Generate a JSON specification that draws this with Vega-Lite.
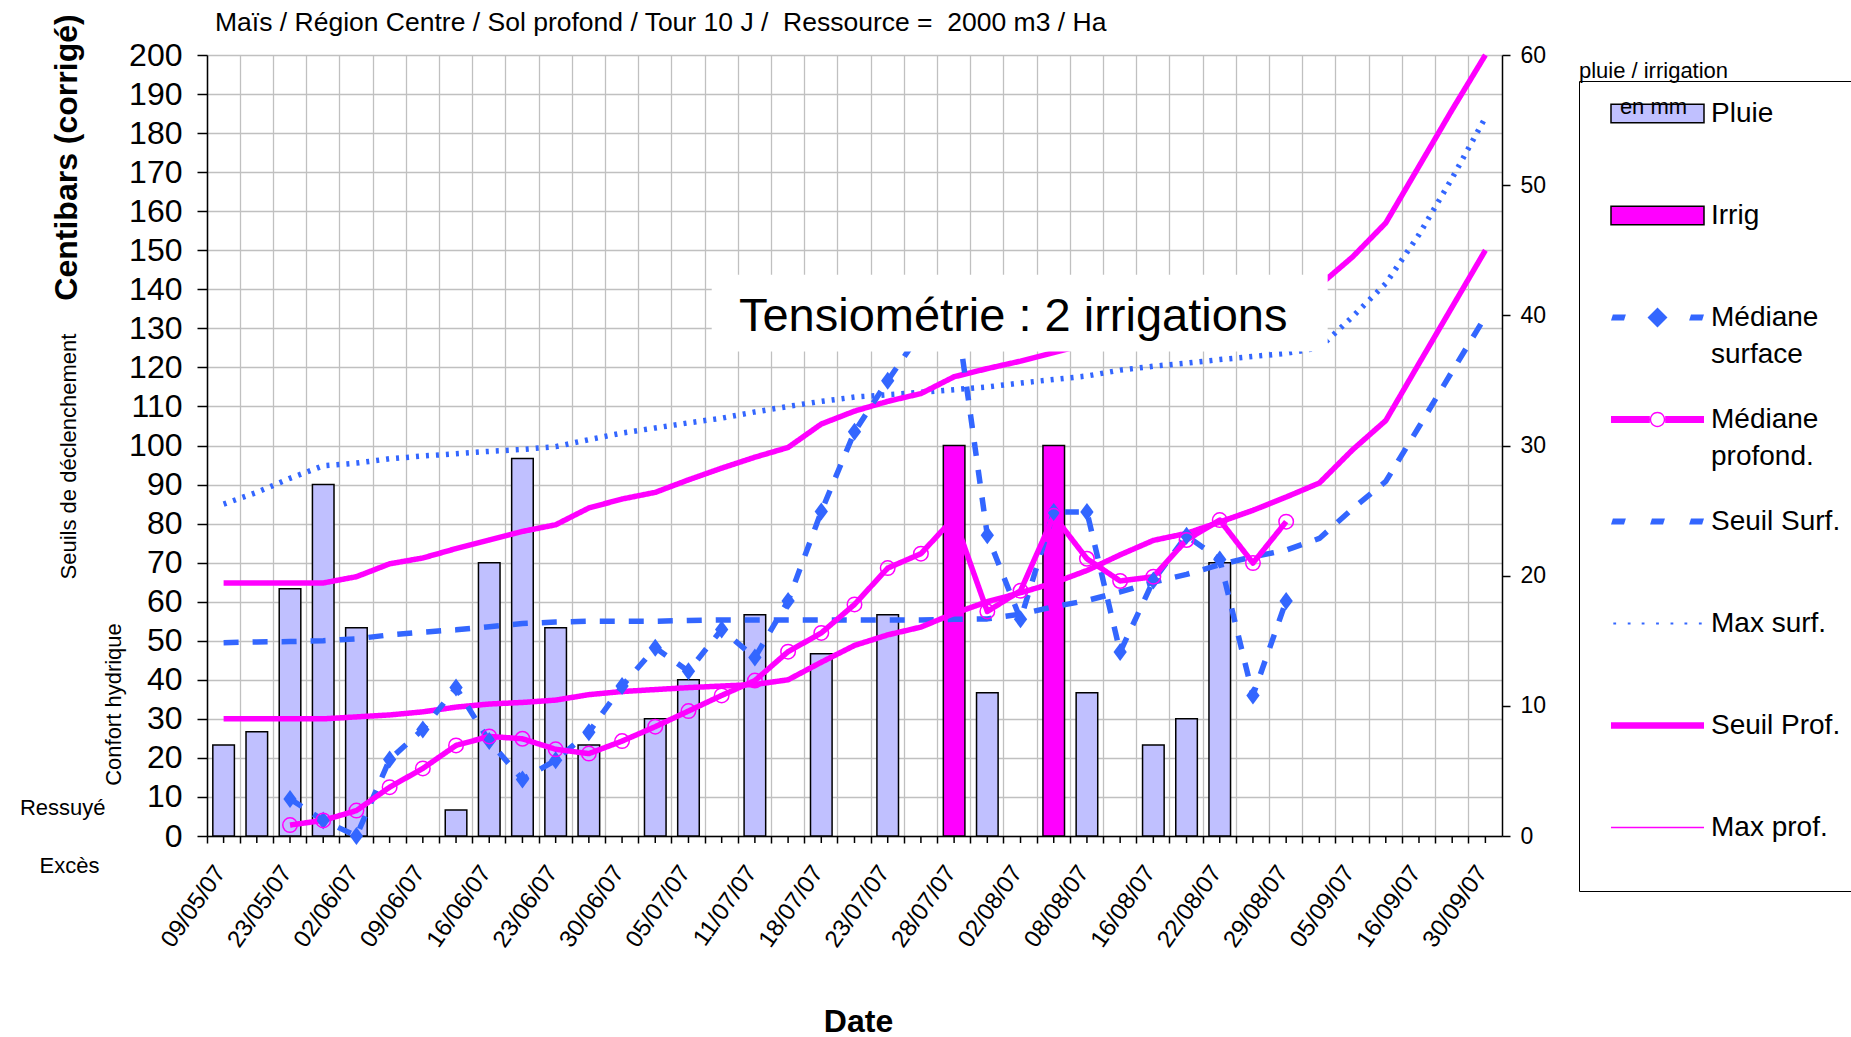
{
  "$schema": "https://vega.github.io/schema/vega-lite/v6.json",
  "width": 1295,
  "height": 781,
  "autosize": {"type": "none"},
  "padding": {"left": 207, "top": 55, "right": 349, "bottom": 201},
  "title": {
    "text": "Maïs / Région Centre / Sol profond / Tour 10 J /\u00a0 Ressource =\u00a0 2000 m3 / Ha",
    "anchor": "start", "frame": "group", "fontSize": 26.5, "fontWeight": "normal",
    "font": "Liberation Sans", "color": "black", "baseline": "middle", "offset": 0, "dx": 8, "dy": 36
  },
  "config": {
    "view": {"stroke": null},
    "font": "Liberation Sans",
    "style": {"guide-label": {"lineHeight": 37}},
    "axis": {
      "labelColor": "black", "titleColor": "black", "domainColor": "black", "tickColor": "black",
      "gridColor": "#c0c0c0", "gridWidth": 1.3, "domainWidth": 1.5, "tickWidth": 1.5,
      "labelFont": "Liberation Sans", "titleFont": "Liberation Sans"
    }
  },
  "datasets": {
    "t": [
      {"d":"09/05/07","i":0,"Pluie":7,"Seuil Surf.":49.5,"Max surf.":85,"Seuil Prof.":30,"Max prof.":64.8},
      {"d":"16/05/07","i":1,"Pluie":8,"Seuil Surf.":49.7,"Max surf.":88,"Seuil Prof.":30,"Max prof.":64.8},
      {"d":"23/05/07","i":2,"Pluie":19,"Médiane surface":9.5,"Médiane profond.":2.8,"Seuil Surf.":49.8,"Max surf.":91.6,"Seuil Prof.":30,"Max prof.":64.8},
      {"d":"28/05/07","i":3,"Pluie":27,"Médiane surface":4,"Médiane profond.":4,"Seuil Surf.":50,"Max surf.":94.8,"Seuil Prof.":30,"Max prof.":64.8},
      {"d":"02/06/07","i":4,"Pluie":16,"Médiane surface":0,"Médiane profond.":6.5,"Seuil Surf.":50.5,"Max surf.":95.5,"Seuil Prof.":30.5,"Max prof.":66.4},
      {"d":"06/06/07","i":5,"Médiane surface":19.6,"Médiane profond.":12.5,"Seuil Surf.":51.5,"Max surf.":96.6,"Seuil Prof.":31,"Max prof.":69.7},
      {"d":"09/06/07","i":6,"Médiane surface":27.3,"Médiane profond.":17.3,"Seuil Surf.":52.2,"Max surf.":97.3,"Seuil Prof.":31.8,"Max prof.":71.2},
      {"d":"13/06/07","i":7,"Pluie":2,"Médiane surface":38,"Médiane profond.":23.2,"Seuil Surf.":52.8,"Max surf.":97.9,"Seuil Prof.":33,"Max prof.":73.6},
      {"d":"16/06/07","i":8,"Pluie":21,"Médiane surface":24.3,"Médiane profond.":25.5,"Seuil Surf.":53.6,"Max surf.":98.5,"Seuil Prof.":33.8,"Max prof.":75.8},
      {"d":"20/06/07","i":9,"Pluie":29,"Médiane surface":14.5,"Médiane profond.":24.9,"Seuil Surf.":54.4,"Max surf.":99,"Seuil Prof.":34.2,"Max prof.":78},
      {"d":"23/06/07","i":10,"Pluie":16,"Médiane surface":19.4,"Médiane profond.":22.2,"Seuil Surf.":54.8,"Max surf.":99.7,"Seuil Prof.":34.8,"Max prof.":79.7},
      {"d":"27/06/07","i":11,"Pluie":7,"Médiane surface":26.6,"Médiane profond.":21.1,"Seuil Surf.":55,"Max surf.":101.5,"Seuil Prof.":36.2,"Max prof.":84},
      {"d":"30/06/07","i":12,"Médiane surface":38.4,"Médiane profond.":24.3,"Seuil Surf.":55,"Max surf.":103.2,"Seuil Prof.":37,"Max prof.":86.3},
      {"d":"03/07/07","i":13,"Pluie":9,"Médiane surface":48.2,"Médiane profond.":28,"Seuil Surf.":55,"Max surf.":104.5,"Seuil Prof.":37.5,"Max prof.":88},
      {"d":"05/07/07","i":14,"Pluie":12,"Médiane surface":42.2,"Médiane profond.":32,"Seuil Surf.":55.2,"Max surf.":105.8,"Seuil Prof.":38,"Max prof.":91.2},
      {"d":"08/07/07","i":15,"Médiane surface":52.9,"Médiane profond.":36,"Seuil Surf.":55.3,"Max surf.":107,"Seuil Prof.":38.4,"Max prof.":94.2},
      {"d":"11/07/07","i":16,"Pluie":17,"Médiane surface":45.7,"Médiane profond.":39.8,"Seuil Surf.":55.3,"Max surf.":108.6,"Seuil Prof.":38.8,"Max prof.":97},
      {"d":"14/07/07","i":17,"Médiane surface":60.2,"Médiane profond.":47.2,"Seuil Surf.":55.3,"Max surf.":110,"Seuil Prof.":40,"Max prof.":99.5},
      {"d":"18/07/07","i":18,"Pluie":14,"Médiane surface":83.1,"Médiane profond.":52,"Seuil Surf.":55.3,"Max surf.":111.3,"Seuil Prof.":44.5,"Max prof.":105.5},
      {"d":"20/07/07","i":19,"Médiane surface":103.5,"Médiane profond.":59.3,"Seuil Surf.":55.3,"Max surf.":112.4,"Seuil Prof.":48.8,"Max prof.":108.8},
      {"d":"23/07/07","i":20,"Pluie":17,"Médiane surface":116.6,"Médiane profond.":68.6,"Seuil Surf.":55.3,"Max surf.":113,"Seuil Prof.":51.5,"Max prof.":111.3},
      {"d":"26/07/07","i":21,"Médiane surface":129,"Médiane profond.":72.3,"Seuil Surf.":55.3,"Max surf.":113.6,"Seuil Prof.":53.5,"Max prof.":113.3},
      {"d":"28/07/07","i":22,"Irrig":30,"Médiane surface":138,"Médiane profond.":81.5,"Seuil Surf.":55.5,"Max surf.":114.3,"Seuil Prof.":57,"Max prof.":117.6},
      {"d":"30/07/07","i":23,"Pluie":11,"Médiane surface":77,"Médiane profond.":57.5,"Seuil Surf.":55.6,"Max surf.":115,"Seuil Prof.":60,"Max prof.":119.7},
      {"d":"02/08/07","i":24,"Médiane surface":55.5,"Médiane profond.":62.8,"Seuil Surf.":56.8,"Max surf.":116,"Seuil Prof.":62.3,"Max prof.":121.6},
      {"d":"05/08/07","i":25,"Irrig":30,"Médiane surface":83,"Médiane profond.":82,"Seuil Surf.":58.7,"Max surf.":116.9,"Seuil Prof.":64.8,"Max prof.":123.8},
      {"d":"08/08/07","i":26,"Pluie":11,"Médiane surface":83,"Médiane profond.":71,"Seuil Surf.":60.3,"Max surf.":117.8,"Seuil Prof.":68},
      {"d":"12/08/07","i":27,"Médiane surface":47.1,"Médiane profond.":65.3,"Seuil Surf.":62.5,"Max surf.":119.3,"Seuil Prof.":72},
      {"d":"16/08/07","i":28,"Pluie":7,"Médiane surface":65.4,"Médiane profond.":66.4,"Seuil Surf.":65,"Max surf.":120.3,"Seuil Prof.":75.7},
      {"d":"19/08/07","i":29,"Pluie":9,"Médiane surface":76.9,"Médiane profond.":75.8,"Seuil Surf.":67,"Max surf.":121.1,"Seuil Prof.":77.5},
      {"d":"22/08/07","i":30,"Pluie":21,"Médiane surface":70.8,"Médiane profond.":80.9,"Seuil Surf.":69.5,"Max surf.":122,"Seuil Prof.":80.4},
      {"d":"26/08/07","i":31,"Médiane surface":36,"Médiane profond.":69.9,"Seuil Surf.":71.5,"Max surf.":122.8,"Seuil Prof.":83.4},
      {"d":"29/08/07","i":32,"Médiane surface":60.2,"Médiane profond.":80.5,"Seuil Surf.":73.2,"Max surf.":123.6,"Seuil Prof.":86.8},
      {"d":"01/09/07","i":33,"Seuil Surf.":76.2,"Max surf.":125,"Seuil Prof.":90.4,"Max prof.":141},
      {"d":"05/09/07","i":34,"Seuil Surf.":83.8,"Max surf.":133,"Seuil Prof.":98.9,"Max prof.":148.3},
      {"d":"10/09/07","i":35,"Seuil Surf.":90.8,"Max surf.":141.5,"Seuil Prof.":106.4,"Max prof.":157},
      {"d":"16/09/07","i":36,"Seuil Surf.":104.8,"Max surf.":154,"Seuil Prof.":121,"Max prof.":171.5},
      {"d":"23/09/07","i":37,"Seuil Surf.":119,"Max surf.":168.5,"Seuil Prof.":135.5,"Max prof.":186},
      {"d":"30/09/07","i":38,"Seuil Surf.":133,"Max surf.":184,"Seuil Prof.":150,"Max prof.":200}
    ]
  },
  "data": {"name": "t"},
  "transform": [
    {"fold": ["Pluie", "Irrig", "Médiane surface", "Médiane profond\\.", "Seuil Surf\\.", "Max surf\\.", "Seuil Prof\\.", "Max prof\\."], "as": ["s", "v"]},
    {"filter": "isValid(datum.v)"}
  ],
  "encoding": {
    "x": {
      "field": "d", "type": "ordinal",
      "scale": {"type": "band", "paddingInner": 0, "paddingOuter": 0,
        "domain": ["09/05/07","16/05/07","23/05/07","28/05/07","02/06/07","06/06/07","09/06/07","13/06/07","16/06/07","20/06/07","23/06/07","27/06/07","30/06/07","03/07/07","05/07/07","08/07/07","11/07/07","14/07/07","18/07/07","20/07/07","23/07/07","26/07/07","28/07/07","30/07/07","02/08/07","05/08/07","08/08/07","12/08/07","16/08/07","19/08/07","22/08/07","26/08/07","29/08/07","01/09/07","05/09/07","10/09/07","16/09/07","23/09/07","30/09/07"]},
      "axis": null
    }
  },
  "resolve": {"scale": {"x": "independent", "y": "independent"}},
  "layer": [
    {
      "transform": [{"filter": {"field": "s", "equal": "Seuil Prof."}}],
      "mark": {"type": "rule", "color": "black", "strokeWidth": 1.5},
      "encoding": {
        "x": {
          "field": "d", "type": "ordinal",
          "scale": {"type": "band", "paddingInner": 0, "paddingOuter": 0,
            "domain": ["09/05/07","16/05/07","23/05/07","28/05/07","02/06/07","06/06/07","09/06/07","13/06/07","16/06/07","20/06/07","23/06/07","27/06/07","30/06/07","03/07/07","05/07/07","08/07/07","11/07/07","14/07/07","18/07/07","20/07/07","23/07/07","26/07/07","28/07/07","30/07/07","02/08/07","05/08/07","08/08/07","12/08/07","16/08/07","19/08/07","22/08/07","26/08/07","29/08/07","01/09/07","05/09/07","10/09/07","16/09/07","23/09/07","30/09/07"]},
          "axis": {
            "orient": "bottom", "bandPosition": 0, "grid": true, "tickSize": 7,
            "labelExpr": "round(datum.index * 38) % 2 == 0 ? datum.label : ''",
            "labelAngle": -55, "labelAlign": "right", "labelBaseline": "middle", "labelOffset": -3,
            "labelFontSize": 24, "labelPadding": 25, "labelOverlap": false,
            "title": "Date", "titleFontSize": 32, "titleFontWeight": "bold",
            "titleX": 651, "titleY": 185, "titleAlign": "center", "titleBaseline": "middle"
          }
        },
        "y": {"datum": 0, "type": "quantitative", "scale": {"domain": [0, 200], "nice": false}, "axis": null},
        "y2": {"datum": -1.8}
      }
    },
    {
      "transform": [{"filter": {"field": "s", "oneOf": ["Pluie", "Irrig"]}}],
      "mark": {"type": "bar", "width": {"band": 0.65}, "stroke": "black", "strokeWidth": 1.5},
      "encoding": {
        "y": {
          "field": "v", "type": "quantitative",
          "scale": {"domain": [0, 60], "nice": false},
          "axis": {
            "orient": "right", "values": [0, 10, 20, 30, 40, 50, 60], "grid": false,
            "tickSize": 8, "labelFontSize": 23, "labelPadding": 10, "zindex": 2,
            "title": ["pluie / irrigation", "en mm"], "titleAngle": 0, "titleX": 151, "titleY": 5,
            "titleAlign": "center", "titleBaseline": "top", "titleFontSize": 22,
            "titleFontWeight": "normal", "titleLineHeight": 36
          }
        },
        "color": {
          "field": "s", "type": "nominal",
          "scale": {
            "domain": ["Pluie", "Irrig", "Médiane surface", "Médiane profond.", "Seuil Surf.", "Max surf.", "Seuil Prof.", "Max prof."],
            "range": ["#C0C0FF", "#FF00FF", "#3366FF", "#FF00FF", "#3366FF", "#3366FF", "#FF00FF", "#FF00FF"]
          },
          "legend": {
            "title": "\u00a0", "titleOrient": "bottom", "titleFontSize": 20, "titlePadding": 14,
            "orient": "none", "legendX": 1372, "legendY": 26,
            "padding": 15, "strokeColor": "black", "fillColor": "white",
            "symbolSize": 1089, "symbolOffset": 46, "labelOffset": 36,
            "labelFontSize": 28, "labelColor": "black",
            "labelLimit": 0, "labelBaseline": "middle", "rowPadding": 33, "gridAlign": "all",
            "direction": "vertical", "columns": 1,
            "symbolStrokeWidth": 1.5, "symbolOpacity": 1,
            "symbolStrokeColor": {"expr": "datum.value == 'Pluie' || datum.value == 'Irrig' ? 'black' : 'transparent'"},
            "symbolType": {"expr": "datum.value == 'Pluie' || datum.value == 'Irrig' ? 'M-2.818,-0.564H2.818V0.564H-2.818Z' : datum.value == 'Médiane surface' ? 'M-2.818,0.183L-2.705,-0.183H-1.916L-2.029,0.183Z M0,-0.606L0.606,0L0,0.606L-0.606,0Z M1.916,0.183L2.029,-0.183H2.818L2.705,0.183Z' : datum.value == 'Médiane profond.' ? 'M-2.818,-0.211H-0.465V0.211H-2.818Z M0.465,-0.211H2.818V0.211H0.465Z M0.465,0A0.465,0.465 0 1,1 -0.465,0A0.465,0.465 0 1,1 0.465,0Z M0.38,0A0.38,0.38 0 1,0 -0.38,0A0.38,0.38 0 1,0 0.38,0Z' : datum.value == 'Seuil Surf.' ? 'M-2.818,0.183L-2.705,-0.183H-1.916L-2.029,0.183Z M-0.451,0.183L-0.338,-0.183H0.451L0.338,0.183Z M1.916,0.183L2.029,-0.183H2.818L2.705,0.183Z' : datum.value == 'Max surf.' ? 'M-2.677,-0.062h0.169v0.124h-0.169Z M-1.803,-0.062h0.169v0.124h-0.169Z M-0.958,-0.062h0.169v0.124h-0.169Z M-0.085,-0.062h0.169v0.124h-0.169Z M0.79,-0.062h0.169v0.124h-0.169Z M1.635,-0.062h0.169v0.124h-0.169Z M2.509,-0.062h0.169v0.124h-0.169Z' : datum.value == 'Seuil Prof.' ? 'M-2.818,-0.197H2.818V0.197H-2.818Z' : 'M-2.818,-0.04H2.818V0.04H-2.818Z'"},
            "labelExpr": "datum.label == 'Médiane surface' ? ['Médiane', 'surface'] : datum.label == 'Médiane profond.' ? ['Médiane', 'profond.'] : datum.label"
          }
        }
      }
    },
    {
      "transform": [{"filter": {"field": "s", "oneOf": ["Médiane surface", "Médiane profond.", "Seuil Surf.", "Max surf.", "Seuil Prof.", "Max prof."]}}],
      "mark": {"type": "line", "strokeCap": "butt", "strokeJoin": "round"},
      "encoding": {
        "y": {
          "field": "v", "type": "quantitative",
          "scale": {"domain": [0, 200], "nice": false},
          "axis": {
            "orient": "left", "values": [0,10,20,30,40,50,60,70,80,90,100,110,120,130,140,150,160,170,180,190,200],
            "grid": true, "tickSize": 10, "labelFontSize": 32, "labelPadding": 15,
            "labelFlush": false, "labelOverlap": false,
            "title": "Centibars (corrigé)", "titleFontSize": 32, "titleFontWeight": "bold",
            "titleAngle": 270, "titleX": -141, "titleY": 102, "titleAlign": "center", "titleBaseline": "middle"
          }
        },
        "stroke": {
          "field": "s", "type": "nominal",
          "scale": {
            "domain": ["Médiane surface", "Médiane profond.", "Seuil Surf.", "Max surf.", "Seuil Prof.", "Max prof."],
            "range": ["#3366FF", "#FF00FF", "#3366FF", "#3366FF", "#FF00FF", "#FF00FF"]
          },
          "legend": null
        },
        "strokeDash": {
          "field": "s", "type": "nominal",
          "scale": {"domain": ["Médiane surface", "Médiane profond.", "Seuil Surf.", "Max surf.", "Seuil Prof.", "Max prof."],
            "range": [[14, 14], [1, 0], [15, 14], [3, 7], [1, 0], [1, 0]]},
          "legend": null
        },
        "strokeWidth": {
          "field": "s", "type": "nominal",
          "scale": {"domain": ["Médiane surface", "Médiane profond.", "Seuil Surf.", "Max surf.", "Seuil Prof.", "Max prof."],
            "range": [5.5, 5.5, 6.5, 2.5, 7, 1.2]},
          "legend": null
        },
        "order": {"field": "i", "type": "quantitative"}
      }
    },
    {
      "transform": [{"filter": {"field": "s", "equal": "Médiane surface"}}],
      "mark": {"type": "point", "shape": "M0,-1.15L0.85,0L0,1.15L-0.85,0Z", "filled": true, "color": "#3366FF", "size": 245, "opacity": 1},
      "encoding": {
        "y": {"field": "v", "type": "quantitative", "scale": {"domain": [0, 200], "nice": false}, "axis": null}
      }
    },
    {
      "transform": [{"filter": {"field": "s", "equal": "Médiane profond."}}],
      "mark": {"type": "point", "shape": "circle", "filled": false, "color": "#FF00FF", "strokeWidth": 1.5, "size": 210, "opacity": 1},
      "encoding": {
        "y": {"field": "v", "type": "quantitative", "scale": {"domain": [0, 200], "nice": false}, "axis": null}
      }
    },
    {
      "data": {"values": [{"txt": "Tensiométrie : 2 irrigations"}]},
      "mark": {"type": "rect", "fill": "white"},
      "encoding": {
        "x": {"datum": "08/07/07", "type": "ordinal", "bandPosition": 0.2, "axis": null},
        "x2": {"datum": "01/09/07", "bandPosition": 0.75},
        "y": {"datum": 124.1, "type": "quantitative", "scale": {"domain": [0, 200], "nice": false}, "axis": null},
        "y2": {"datum": 143.7}
      }
    },
    {
      "data": {"values": [{"txt": "Tensiométrie : 2 irrigations"}]},
      "mark": {"type": "text", "fontSize": 47, "font": "Liberation Sans", "align": "center", "baseline": "middle", "color": "black"},
      "encoding": {
        "x": {"datum": "02/08/07", "type": "ordinal", "bandPosition": 0.28, "axis": null},
        "y": {"datum": 132.9, "type": "quantitative", "scale": {"domain": [0, 200], "nice": false}, "axis": null},
        "text": {"field": "txt"}
      }
    },
    {
      "data": {"values": [{"cb": 97.3, "zone": "Seuils de déclenchement"}, {"cb": 33.8, "zone": "Confort hydrique"}]},
      "mark": {"type": "point", "opacity": 0},
      "encoding": {
        "y": {
          "field": "cb", "type": "quantitative", "scale": {"domain": [0, 200], "nice": false},
          "axis": {
            "orient": "left", "values": [97.3, 33.8], "domain": false, "ticks": false, "grid": false, "tickSize": 0,
            "title": null, "labelExpr": "datum.value > 50 ? 'Seuils de déclenchement' : 'Confort hydrique'",
            "labelAngle": 270, "labelAlign": "center", "labelBaseline": "middle", "labelFontSize": 22, "labelLimit": 0,
            "labelPadding": {"condition": {"test": "datum.value > 50", "value": 139}, "value": 94},
            "labelOverlap": false, "labelFlush": false
          }
        }
      }
    },
    {
      "data": {"values": [{"cb": 7.2, "zone": "Ressuyé"}, {"cb": 0, "zone": "Excès"}]},
      "mark": {"type": "point", "opacity": 0},
      "encoding": {
        "y": {
          "field": "cb", "type": "quantitative", "scale": {"domain": [0, 200], "nice": false},
          "axis": {
            "orient": "left", "values": [7.2, 0], "domain": false, "ticks": false, "grid": false, "tickSize": 0,
            "title": null, "labelExpr": "datum.value > 3 ? 'Ressuyé' : 'Excès'",
            "labelAngle": 0, "labelAlign": "right", "labelBaseline": "middle", "labelFontSize": 22, "labelLimit": 0,
            "labelPadding": {"condition": {"test": "datum.value > 3", "value": 102}, "value": 108},
            "labelOffset": {"condition": {"test": "datum.value > 3", "value": 0}, "value": 29},
            "labelOverlap": false, "labelFlush": false
          }
        }
      }
    }
  ]
}
